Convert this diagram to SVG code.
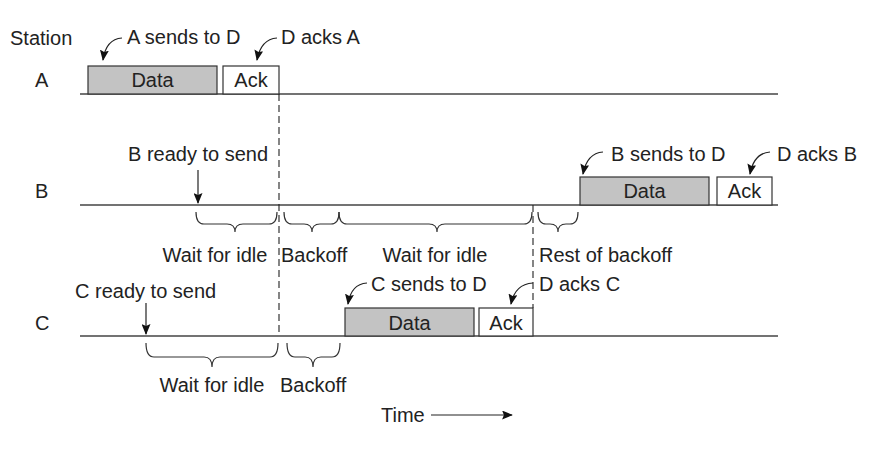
<svg xmlns="http://www.w3.org/2000/svg" width="885" height="454" viewBox="0 0 885 454">
<defs>
<style>
text{font-family:"Liberation Sans",Arial,sans-serif;font-size:20px;fill:#222}
.tl{stroke:#444;stroke-width:1.3;fill:none}
.data{fill:#c3c3c3;stroke:#333;stroke-width:1.2}
.ack{fill:#fff;stroke:#333;stroke-width:1.2}
.dash{stroke:#222;stroke-width:1.1;fill:none;stroke-dasharray:7,4}
.brace{stroke:#333;stroke-width:1.2;fill:none}
.arr{stroke:#222;stroke-width:1.2;fill:none;marker-end:url(#ah)}
.mid{text-anchor:middle}
</style>
<marker id="ah" viewBox="0 0 12 10" refX="11" refY="5" markerWidth="11" markerHeight="9" markerUnits="userSpaceOnUse" orient="auto">
<path d="M0,0 L12,5 L0,10 L2,5 z" fill="#111"/>
</marker>
</defs>

<g id="labels">
<text x="10" y="45">Station</text>
<text x="35" y="87">A</text>
<text x="35" y="198">B</text>
<text x="35" y="330">C</text>
</g>

<g id="timelines">
<line class="tl" x1="80" y1="94" x2="778" y2="94"/>
<line class="tl" x1="80" y1="205" x2="778" y2="205"/>
<line class="tl" x1="80" y1="336" x2="778" y2="336"/>
</g>

<g id="stationA">
<rect class="data" x="88" y="66" width="129" height="28"/>
<text class="mid" x="152.5" y="87">Data</text>
<rect class="ack" x="223" y="66" width="56" height="28"/>
<text class="mid" x="251" y="87">Ack</text>
<text x="127" y="44">A sends to D</text>
<text x="281" y="44">D acks A</text>
</g>

<g id="stationB">
<rect class="data" x="580" y="177" width="129" height="28"/>
<text class="mid" x="644.5" y="198">Data</text>
<rect class="ack" x="717" y="177" width="55" height="28"/>
<text class="mid" x="744.5" y="198">Ack</text>
<text x="128" y="161">B ready to send</text>
<text x="611" y="161">B sends to D</text>
<text x="777" y="161">D acks B</text>
<text class="mid" x="215" y="262">Wait for idle</text>
<text x="281" y="262">Backoff</text>
<text class="mid" x="435" y="262">Wait for idle</text>
<text x="539" y="262">Rest of backoff</text>
</g>

<g id="stationC">
<rect class="data" x="345" y="308" width="129" height="28"/>
<text class="mid" x="409.5" y="330">Data</text>
<rect class="ack" x="479" y="308" width="54" height="28"/>
<text class="mid" x="506" y="330">Ack</text>
<text x="75" y="298">C ready to send</text>
<text x="371" y="291">C sends to D</text>
<text x="539" y="291">D acks C</text>
<text class="mid" x="212" y="392">Wait for idle</text>
<text x="280" y="392">Backoff</text>
</g>

<g id="time">
<text x="381" y="422">Time</text>
</g>

<g id="connectors">
<line class="dash" x1="279" y1="94" x2="279" y2="336"/>
<line class="dash" x1="533" y1="205" x2="533" y2="308"/>
<path class="arr" d="M122,38 Q106,39 103,60"/>
<path class="arr" d="M277,38 Q261,39 257,60"/>
<path class="arr" d="M603,152 Q587,153 583,174"/>
<path class="arr" d="M770,152 Q754,153 750,174"/>
<path class="arr" d="M367,283 Q351,284 348,304"/>
<path class="arr" d="M533,283 Q515,284 511,304"/>
<line class="arr" x1="198" y1="170" x2="198" y2="203"/>
<line class="arr" x1="146" y1="303" x2="146" y2="334"/>
<line class="arr" x1="431" y1="415" x2="512" y2="415"/>
<path class="brace" d="M196,212 Q196,224 204,224 L227,224 Q235,224 235,232 Q235,224 243,224 L269,224 Q277,224 277,212"/>
<path class="brace" d="M284,212 Q284,224 292,224 L304,224 Q312,224 312,232 Q312,224 320,224 L331,224 Q339,224 339,212"/>
<path class="brace" d="M339,212 Q339,224 347,224 L429,224 Q437,224 437,232 Q437,224 445,224 L524,224 Q532,224 532,212"/>
<path class="brace" d="M538,212 Q538,224 546,224 L550,224 Q558,224 558,232 Q558,224 566,224 L570,224 Q578,224 578,212"/>
<path class="brace" d="M146,343 Q146,357 154,357 L204,357 Q212,357 212,367 Q212,357 220,357 L270,357 Q278,357 278,343"/>
<path class="brace" d="M287,343 Q287,357 295,357 L305,357 Q313,357 313,367 Q313,357 321,357 L332,357 Q340,357 340,343"/>
</g>
</svg>
